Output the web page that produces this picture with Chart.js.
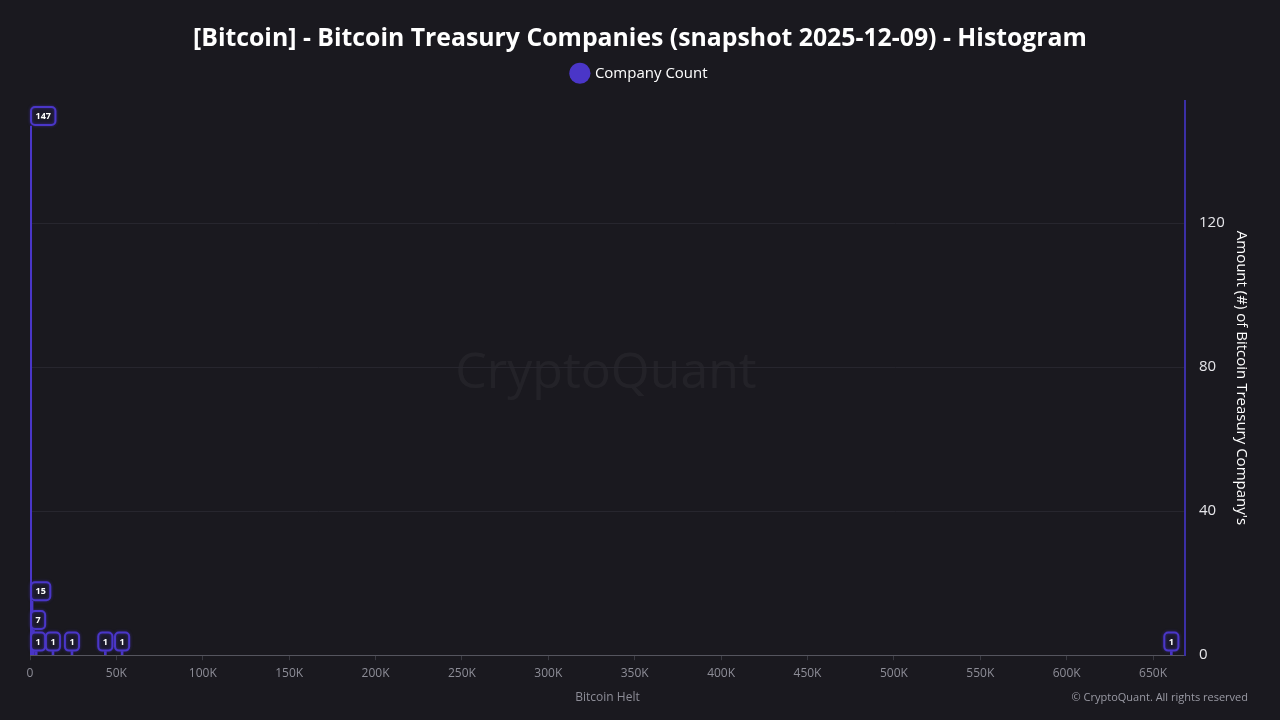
<!DOCTYPE html>
<html>
<head>
<meta charset="utf-8">
<script src="https://cdn.jsdelivr.net/npm/chart.js@4/dist/chart.umd.min.js"></script>
<style>
  html, body { margin: 0; padding: 0; background: #1a191f; }
  #wrap { width: 1280px; height: 720px; }
</style>
</head>
<body>
<div id="wrap"><canvas id="hist"></canvas></div>
<script>
//data
const binCenters = [400, 1200, 2000, 3600, 13300, 24300, 43600, 53300, 660600]; //BTC held
const companyCounts = [147, 15, 7, 1, 1, 1, 1, 1, 1];
const xTickValues = [0, 50000, 100000, 150000, 200000, 250000, 300000, 350000, 400000, 450000, 500000, 550000, 600000, 650000];
const yTickValues = [0, 40, 80, 120];

//colors
const bgColor = '#1a191f';
const purple = '#4a36c8';
const fontFam = '"Open Sans", "Noto Sans", sans-serif';

//background, watermark and copyright
const backdrop = {
	id: 'backdrop',
	beforeInit(chart) {
		//extra room under the legend
		const fit = chart.legend.fit;
		chart.legend.fit = function() {
			fit.bind(chart.legend)();
			this.height += 10;
		};
	},
	beforeDraw(chart) {
		const c = chart.ctx;
		c.save();
		c.fillStyle = bgColor;
		c.fillRect(0, 0, chart.width, chart.height);
		c.font = '50px ' + fontFam;
		c.fillStyle = 'rgba(255,255,255,0.045)';
		c.textAlign = 'center';
		c.textBaseline = 'middle';
		c.fillText('CryptoQuant', 606, 374);
		c.restore();
	},
	afterDraw(chart) {
		const c = chart.ctx;
		c.save();
		c.font = '11px ' + fontFam;
		c.fillStyle = '#9a9aa4';
		c.textAlign = 'right';
		c.textBaseline = 'middle';
		c.fillText('\u00A9 CryptoQuant. All rights reserved', 1248, 698);
		c.restore();
	}
};

//boxed count labels on top of each bar
const countLabels = {
	id: 'countLabels',
	afterDatasetsDraw(chart) {
		const c = chart.ctx;
		const a = chart.chartArea;
		const meta = chart.getDatasetMeta(0);
		c.save();
		c.font = 'bold 9px ' + fontFam;
		c.textBaseline = 'middle';
		c.textAlign = 'center';
		meta.data.forEach(function(bar, i) {
			const txt = String(companyCounts[i]);
			const w = Math.max(c.measureText(txt).width + 9, 14);
			const h = 18;
			let left = bar.x - w / 2;
			if (left < a.left + 1) left = a.left + 1;
			if (left + w > a.right) left = a.right - w;
			const top = bar.y - h - 1;
			c.beginPath();
			c.roundRect(left, top, w, h, 4);
			c.fillStyle = '#1c1a2c';
			c.fill();
			c.lineWidth = 2;
			c.strokeStyle = purple;
			c.shadowColor = 'rgba(74,54,200,0.6)';
			c.shadowBlur = 3;
			c.stroke();
			c.shadowBlur = 0;
			c.fillStyle = '#ffffff';
			c.fillText(txt, left + w / 2, top + h / 2 + 0.5);
		});
		c.restore();
	}
};

const ctx = document.getElementById('hist');

const histChart = new Chart(ctx, {
	type: 'bar',
	data: {
		datasets: [{
			label: 'Company Count',
			data: binCenters.map(function(x, i) { return { x: x, y: companyCounts[i] }; }),
			backgroundColor: purple,
			borderWidth: 0,
			barThickness: 2
		}]
	},
	options: {
		responsive: true,
		maintainAspectRatio: false,
		animation: false,
		layout: { padding: { left: 30, right: 30, top: 4, bottom: 15 } },
		plugins: {
			title: {
				display: true,
				text: '[Bitcoin] - Bitcoin Treasury Companies (snapshot 2025-12-09) - Histogram',
				color: '#ffffff',
				font: { family: fontFam, size: 24.8, weight: 'bold' },
				padding: { top: 20, bottom: 0 }
			},
			legend: {
				display: true,
				labels: {
					color: '#ffffff',
					font: { family: fontFam, size: 15 },
					usePointStyle: true,
					pointStyle: 'circle',
					boxWidth: 15,
					boxHeight: 15,
					padding: 12
				}
			},
			tooltip: { enabled: false }
		},
		scales: {
			x: {
				type: 'linear',
				min: 0,
				max: 668500,
				offset: false,
				grid: { offset: false, drawOnChartArea: false, drawTicks: true, tickLength: 5, color: '#3a3a42' },
				border: { display: true, color: '#55555e' },
				ticks: {
					autoSkip: false,
					color: '#8d8d97',
					font: { family: fontFam, size: 12 },
					maxRotation: 0,
					padding: 6,
					callback: function(v) { return v === 0 ? '0' : (v / 1000) + 'K'; }
				},
				afterBuildTicks: function(scale) {
					scale.ticks = xTickValues.map(function(v) { return { value: v }; });
				},
				title: {
					display: true,
					text: 'Bitcoin Helt',
					color: '#8d8d97',
					font: { family: fontFam, size: 12 },
					padding: { top: 4, bottom: 0 }
				}
			},
			y: {
				position: 'right',
				min: 0,
				max: 154,
				grid: { color: '#27262e', drawTicks: false },
				border: { display: true, color: '#3b2fa6', width: 2 },
				ticks: {
					color: '#e6e6ea',
					font: { family: fontFam, size: 15 },
					padding: 14
				},
				afterBuildTicks: function(scale) {
					scale.ticks = yTickValues.map(function(v) { return { value: v }; });
				},
				afterFit: function(scale) { scale.width = 65; },
				title: {
					display: true,
					text: "Amount (#) of Bitcoin Treasury Company's",
					color: '#ffffff',
					font: { family: fontFam, size: 15 },
					padding: { top: 0, bottom: 0 }
				}
			}
		}
	},
	plugins: [backdrop, countLabels]
});
</script>
</body>
</html>
